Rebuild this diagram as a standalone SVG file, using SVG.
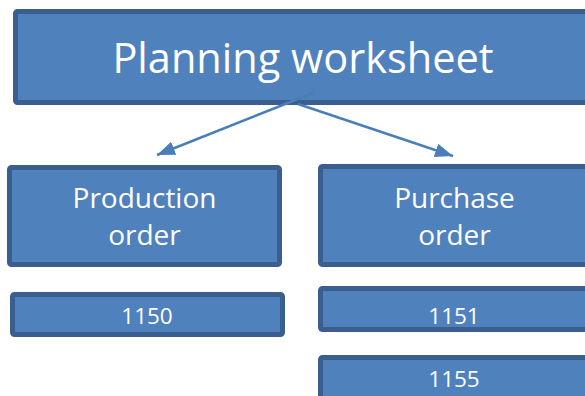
<svg xmlns="http://www.w3.org/2000/svg" width="585" height="396" viewBox="0 0 585 396">
<style>
.box{fill:#4F81BD;stroke:#3A5F8E;stroke-width:5}
.t{fill:#FFFFFF;font-family:"Open Sans","Noto Sans",sans-serif;text-anchor:middle}
.conn{stroke:#4A7EBB;stroke-width:2.5;fill:none}
</style>
<defs>
<marker id="ah" markerUnits="userSpaceOnUse" markerWidth="20" markerHeight="16" refX="18" refY="8" orient="auto">
<path d="M0,1 L18,8 L0,15 Z" fill="#4A7EBB"/>
</marker>
</defs>
<rect width="585" height="396" fill="#FFFFFF"/>
<g id="planning">
<rect class="box" x="15.5" y="11.5" width="600" height="91" rx="2"/>
<text class="t" x="303" y="73" font-size="41.5">Planning worksheet</text>
</g>
<g id="production">
<rect class="box" x="9.5" y="167.5" width="270" height="97" rx="2"/>
<text class="t" x="144.5" y="208" font-size="28">Production</text>
<text class="t" x="144.5" y="245" font-size="28">order</text>
</g>
<g id="purchase">
<rect class="box" x="320.5" y="166.5" width="280" height="98" rx="2"/>
<text class="t" x="454.5" y="208" font-size="28">Purchase</text>
<text class="t" x="454.5" y="245" font-size="28">order</text>
</g>
<g id="n1150">
<rect class="box" x="12.5" y="294.5" width="270" height="40" rx="2"/>
<text class="t" x="147" y="324" font-size="22.5">1150</text>
</g>
<g id="n1151">
<rect class="box" x="320.5" y="288.5" width="280" height="41" rx="2"/>
<text class="t" x="454" y="324" font-size="22.5">1151</text>
</g>
<g id="n1155">
<rect class="box" x="320.5" y="357.5" width="280" height="60" rx="2"/>
<text class="t" x="454" y="387" font-size="22.5">1155</text>
</g>
<g id="connectors">
<line class="conn" x1="313" y1="93" x2="157" y2="155" marker-end="url(#ah)"/>
<line class="conn" x1="298" y1="104" x2="453" y2="156" marker-end="url(#ah)"/>
</g>
</svg>
